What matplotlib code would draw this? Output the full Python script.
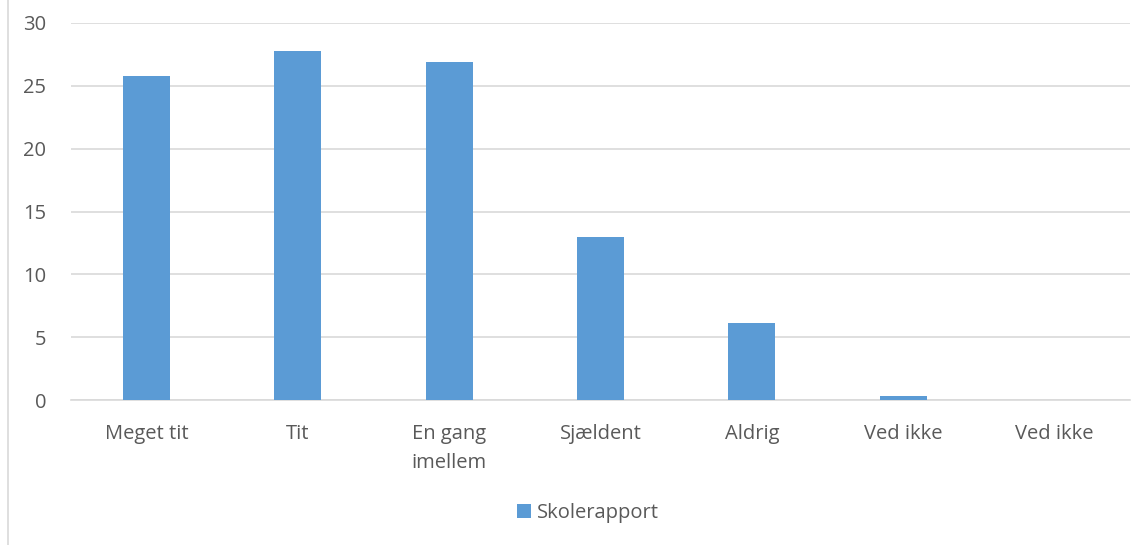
import matplotlib
matplotlib.use("Agg")
import matplotlib.pyplot as plt
from matplotlib.lines import Line2D

categories = ["Meget tit", "Tit", "En gang\nimellem", "Sjældent", "Aldrig", "Ved ikke", "Ved ikke"]
values = [25.8, 27.8, 26.9, 13.0, 6.1, 0.3, 0.0]
series_name = "Skolerapport"

plt.rcParams['font.family'] = ['Open Sans', 'DejaVu Sans']
text_color = "#595959"
bar_color = "#5B9BD5"
grid_color = "#D9D9D9"
fs = 14.5

fig = plt.figure(figsize=(11.45, 5.45), dpi=100)
ax = fig.add_axes([71 / 1145, 1 - 400 / 545, (1130 - 71) / 1145, (400 - 23) / 545])

x = list(range(len(categories)))
ax.bar(x, values, width=0.31, color=bar_color, label=series_name, zorder=3)

ax.set_xlim(-0.5, len(categories) - 0.5)
ax.set_ylim(0, 30)
ax.set_yticks([0, 5, 10, 15, 20, 25, 30])
ax.set_xticks(x)
ax.set_xticklabels(categories, linespacing=1.6, va="top")
ax.tick_params(axis="both", length=0, labelsize=fs, colors=text_color)
ax.tick_params(axis="x", pad=17)
ax.tick_params(axis="y", pad=18)
ax.grid(axis="y", color=grid_color, linewidth=1.2, zorder=0)
for s in ["top", "right", "left"]:
    ax.spines[s].set_visible(False)
ax.spines["bottom"].set_color(grid_color)
ax.spines["bottom"].set_linewidth(1.2)

leg = fig.legend(loc="center", bbox_to_anchor=(588 / 1145, 1 - 513 / 545), frameon=False,
                 fontsize=fs, handlelength=0.65, handleheight=0.65, handletextpad=0.3)
for t in leg.get_texts():
    t.set_color(text_color)

fig.add_artist(Line2D([7.5 / 1145, 7.5 / 1145], [0, 1], color=grid_color, linewidth=1.2,
                      transform=fig.transFigure))

fig.savefig("out.png", dpi=100)
